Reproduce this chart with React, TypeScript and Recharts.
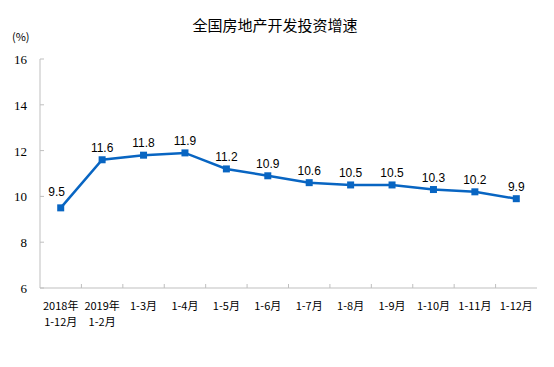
import React from "react";
import { LineChart, Line, XAxis, YAxis, LabelList } from "recharts";

const categories = [
  "2018年\n1-12月",
  "2019年\n1-2月",
  "1-3月",
  "1-4月",
  "1-5月",
  "1-6月",
  "1-7月",
  "1-8月",
  "1-9月",
  "1-10月",
  "1-11月",
  "1-12月",
];
const growth = [9.5, 11.6, 11.8, 11.9, 11.2, 10.9, 10.6, 10.5, 10.5, 10.3, 10.2, 9.9];
const yTicks = [6, 8, 10, 12, 14, 16];
const title = "全国房地产开发投资增速";
const unit = "(%)";

const data = categories.map((c, i) => ({ name: c, value: growth[i] }));

const LINE = "#0865C2";
const AXIS = "#BFBFBF";

const XTick = (props: any) => {
  const { x, y, payload, width, visibleTicksCount, index } = props;
  const band = width / (visibleTicksCount || categories.length);
  const lines = String(payload.value).split("\n");
  return (
    <g>
      {index > 0 && (
        <line x1={x - band / 2} x2={x - band / 2} y1={y - 4} y2={y} stroke={AXIS} strokeWidth={1} />
      )}
      {lines.map((t, i) => (
        <text
          key={i}
          x={x}
          y={y + 22 + i * 16}
          textAnchor="middle"
          fontSize={11}
          fontFamily="'Noto Sans CJK SC', sans-serif"
          fill="#000"
        >
          {t}
        </text>
      ))}
    </g>
  );
};

const YTick = (props: any) => {
  const { x, y, payload } = props;
  return (
    <g>
      <line x1={x} x2={x + 4} y1={y} y2={y} stroke={AXIS} strokeWidth={1} />
      <text
        x={x - 13}
        y={y + 5}
        textAnchor="end"
        fontSize={13}
        fontFamily="'Liberation Serif', serif"
        fill="#000"
      >
        {payload.value}
      </text>
    </g>
  );
};

const SquareDot = (props: any) => {
  const { cx, cy } = props;
  if (cx == null || cy == null) return null;
  return <rect x={cx - 3.5} y={cy - 3.5} width={7} height={7} fill={LINE} />;
};

const ValueLabel = (props: any) => {
  const { x, y, value, index } = props;
  const dx = index === 0 ? -4 : 0;
  const dy = index === 0 ? -12 : -8;
  return (
    <text
      x={x + dx}
      y={y + dy}
      textAnchor="middle"
      fontSize={12}
      fontFamily="'Liberation Sans', Arial, sans-serif"
      fill="#000"
    >
      {Number(value).toFixed(1)}
    </text>
  );
};

export default function App() {
  return (
    <div style={{ position: "absolute", left: 0, top: 0, width: 554, height: 367, background: "#fff" }}>
      <LineChart
        width={554}
        height={367}
        data={data}
        margin={{ top: 59, right: 17, bottom: 39, left: 0 }}
      >
        <XAxis
          dataKey="name"
          scale="band"
          interval={0}
          axisLine={{ stroke: AXIS }}
          tickLine={false}
          tickSize={0}
          tickMargin={0}
          height={40}
          tick={<XTick />}
        />
        <XAxis
          xAxisId="top"
          orientation="top"
          dataKey="name"
          scale="band"
          axisLine={{ stroke: AXIS }}
          tick={false}
          tickLine={false}
          height={0}
        />
        <YAxis
          domain={[6, 16]}
          ticks={yTicks}
          width={40}
          axisLine={{ stroke: AXIS }}
          tickLine={false}
          tickSize={0}
          tickMargin={0}
          tick={<YTick />}
          interval={0}
        />
        <YAxis
          yAxisId="right"
          orientation="right"
          domain={[6, 16]}
          width={0}
          axisLine={{ stroke: AXIS }}
          tick={false}
          tickLine={false}
        />
        <Line
          type="linear"
          dataKey="value"
          stroke={LINE}
          strokeWidth={2.5}
          dot={<SquareDot />}
          activeDot={false}
          isAnimationActive={false}
        >
          <LabelList dataKey="value" content={<ValueLabel />} />
        </Line>
        <text
          x={275}
          y={31}
          textAnchor="middle"
          fontSize={15}
          fontFamily="'Noto Sans CJK SC', sans-serif"
          fill="#000"
        >
          {title}
        </text>
        <text
          x={12}
          y={41}
          fontSize={11}
          fontFamily="'Noto Sans CJK SC', sans-serif"
          fill="#000"
        >
          {unit}
        </text>
      </LineChart>
    </div>
  );
}
